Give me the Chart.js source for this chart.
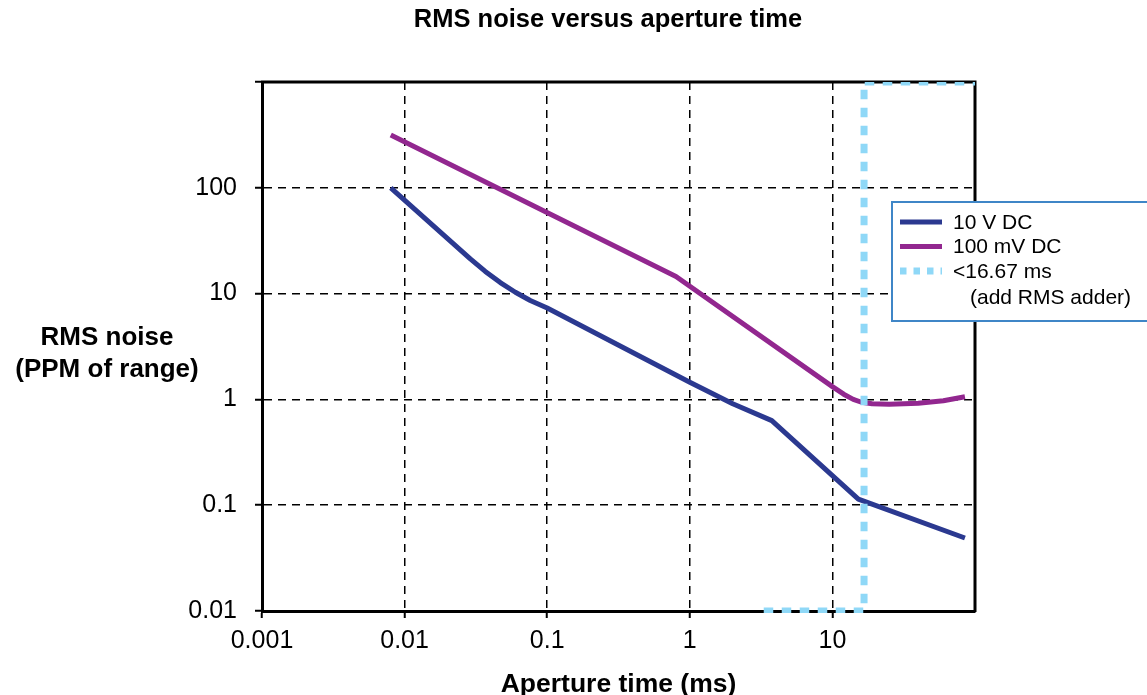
<!DOCTYPE html>
<html>
<head>
<meta charset="utf-8">
<script src="https://cdn.jsdelivr.net/npm/chart.js@4.4.1/dist/chart.umd.min.js"></script>
<style>
  html, body { margin: 0; padding: 0; background: #ffffff; }
  #wrap { width: 1147px; height: 695px; position: relative; }
</style>
</head>
<body>
<div id="wrap"><canvas id="noiseChart" width="1147" height="695"></canvas></div>
<script>
// Text
const titleText = 'RMS noise versus aperture time';
const xAxisTitle = 'Aperture time (ms)';
const yAxisTitle = ['RMS noise', '(PPM of range)'];

// Tick positions and labels (decades)
const xTickValues = [0.001, 0.01, 0.1, 1, 10];
const xTickLabels = ['0.001', '0.01', '0.1', '1', '10'];
const yTickValues = [0.01, 0.1, 1, 10, 100, 1000];
const yTickLabels = ['0.01', '0.1', '1', '10', '100', ''];

// 10 V DC range
const aperture10V = [0.008, 0.0289, 0.0368, 0.0469, 0.0598, 0.0761, 0.1, 1, 2, 3.76, 15.2, 85];
const noise10V    = [100, 21.3, 16.2, 12.7, 10.3, 8.6, 7.3, 1.45, 0.91, 0.63, 0.114, 0.049];

// 100 mV DC range
const aperture100mV = [0.008, 0.8, 10, 12, 14, 16, 19, 25, 40, 60, 85];
const noise100mV    = [315, 14.5, 1.32, 1.12, 1.0, 0.94, 0.91, 0.9, 0.92, 0.97, 1.06];

// Short-aperture region boundary
const apertureLimit = [3.3, 16.67, 16.67, 100];
const noiseLimit    = [0.01, 0.01, 1000, 1000];

const seriesLabels = ['10 V DC', '100 mV DC', ['<16.67 ms', '(add RMS adder)']];
const seriesColors = ['#2b3990', '#92278f', '#8fd8f7'];

const FONT = '"Liberation Sans", Arial, Helvetica, sans-serif';

const toPoints = (xs, ys) => xs.map((x, i) => ({ x: x, y: ys[i] }));

// Titles, plot frame and the boxed legend
const decorations = {
  id: 'decorations',
  beforeDatasetsDraw(chart) {
    const { ctx, chartArea: a } = chart;
    ctx.save();
    ctx.strokeStyle = '#000';
    ctx.lineWidth = 3;
    ctx.beginPath();
    ctx.moveTo(a.left - 1, a.top);
    ctx.lineTo(a.right, a.top);
    ctx.lineTo(a.right, a.bottom + 1);
    ctx.stroke();
    ctx.restore();
  },
  afterDraw(chart) {
    const { ctx, chartArea: a } = chart;
    ctx.save();
    ctx.fillStyle = '#000';
    ctx.textBaseline = 'alphabetic';
    ctx.textAlign = 'center';

    ctx.font = 'bold 25.5px ' + FONT;
    ctx.fillText(titleText, 608, 27);

    ctx.font = 'bold 26.5px ' + FONT;
    ctx.fillText(xAxisTitle, (a.left + a.right) / 2, 692);

    ctx.font = 'bold 26px ' + FONT;
    ctx.fillText(yAxisTitle[0], 107, 345);
    ctx.fillText(yAxisTitle[1], 107, 377);

    // legend box
    const bx = 892, by = 202, bw = 270, bh = 119;
    ctx.fillStyle = '#fff';
    ctx.fillRect(bx, by, bw, bh);
    ctx.strokeStyle = '#3f86c7';
    ctx.lineWidth = 2;
    ctx.strokeRect(bx, by, bw, bh);

    const rows = [222, 246.5, 271];
    chart.data.datasets.forEach((ds, i) => {
      const y = rows[i];
      ctx.save();
      ctx.strokeStyle = ds.borderColor;
      ctx.lineWidth = i === 2 ? 7 : 5;
      ctx.setLineDash(i === 2 ? [6.5, 7] : []);
      ctx.lineCap = 'butt';
      ctx.beginPath();
      ctx.moveTo(900, y);
      ctx.lineTo(942, y);
      ctx.stroke();
      ctx.restore();

      ctx.fillStyle = '#000';
      ctx.font = '21px ' + FONT;
      ctx.textAlign = 'left';
      ctx.textBaseline = 'middle';
      const lines = Array.isArray(ds.label) ? ds.label : [ds.label];
      ctx.fillText(lines[0], 953, y + 1);
      if (lines[1]) ctx.fillText(lines[1], 970, y + 27);
    });
    ctx.restore();
  }
};

const fixedTicks = (values) => (scale) => {
  scale.ticks = values.map(v => ({ value: v }));
};

const gridStyle = {
  color: '#000',
  lineWidth: 1.5,
  tickLength: 7,
  tickWidth: 2,
  tickColor: '#000',
  tickBorderDash: []
};

new Chart(document.getElementById('noiseChart'), {
  type: 'line',
  data: {
    datasets: [
      {
        label: seriesLabels[0],
        data: toPoints(aperture10V, noise10V),
        borderColor: seriesColors[0],
        borderWidth: 5,
        borderJoinStyle: 'round',
        pointRadius: 0,
        tension: 0,
        order: 2
      },
      {
        label: seriesLabels[1],
        data: toPoints(aperture100mV, noise100mV),
        borderColor: seriesColors[1],
        borderWidth: 5,
        borderJoinStyle: 'round',
        pointRadius: 0,
        tension: 0,
        order: 1
      },
      {
        label: seriesLabels[2],
        data: toPoints(apertureLimit, noiseLimit),
        borderColor: seriesColors[2],
        borderWidth: 7,
        borderDash: [9.5, 8.5],
        borderCapStyle: 'butt',
        pointRadius: 0,
        tension: 0,
        clip: { left: 0, top: 0, right: 0, bottom: 2 },
        order: 0
      }
    ]
  },
  options: {
    responsive: false,
    devicePixelRatio: 1,
    animation: false,
    events: [],
    layout: { padding: { top: 82, right: 172, bottom: 0, left: 0 } },
    plugins: {
      legend: { display: false },
      title: { display: false },
      tooltip: { enabled: false }
    },
    scales: {
      x: {
        type: 'logarithmic',
        min: 0.001,
        max: 100,
        afterBuildTicks: fixedTicks(xTickValues),
        afterFit: (s) => { s.height = 84; },
        grid: gridStyle,
        border: { display: true, color: '#000', width: 3, dash: [8, 6] },
        ticks: {
          autoSkip: false,
          maxRotation: 0,
          padding: 8,
          color: '#000',
          font: { family: FONT, size: 25 },
          callback: (v) => {
            const i = xTickValues.findIndex(t => Math.abs(t - v) < t * 1e-6);
            return i >= 0 ? xTickLabels[i] : '';
          }
        }
      },
      y: {
        type: 'logarithmic',
        min: 0.01,
        max: 1000,
        afterBuildTicks: fixedTicks(yTickValues),
        afterFit: (s) => { s.width = 262; },
        grid: gridStyle,
        border: { display: true, color: '#000', width: 3, dash: [8, 6] },
        ticks: {
          autoSkip: false,
          padding: 18,
          color: '#000',
          font: { family: FONT, size: 25 },
          callback: (v) => {
            const i = yTickValues.findIndex(t => Math.abs(t - v) < t * 1e-6);
            return i >= 0 ? yTickLabels[i] : '';
          }
        }
      }
    }
  },
  plugins: [decorations]
});
</script>
</body>
</html>
